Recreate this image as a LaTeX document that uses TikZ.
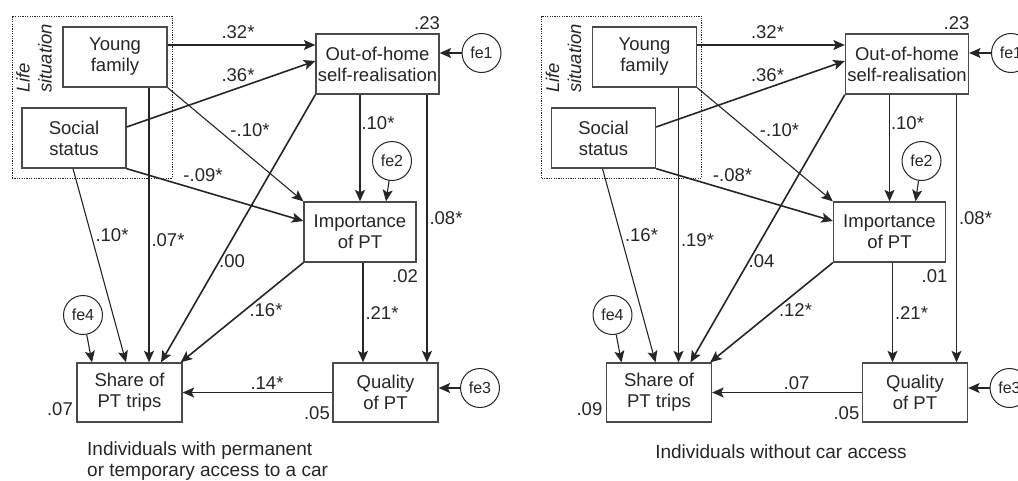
\documentclass[tikz,border=0pt]{standalone}
\usepackage{fontspec}
\setmainfont{Liberation Sans}
\usetikzlibrary{arrows.meta,calc}
\definecolor{ink}{HTML}{262626}
\definecolor{rim}{HTML}{4a4a4a}
\tikzset{
  box/.style={draw=rim, line width=1.3pt, fill=white, align=center,
    font=\fontsize{18.5}{21}\selectfont, text=ink, inner sep=0pt, minimum height=60pt},
  err/.style={draw=ink, line width=1pt, circle, minimum size=39pt, inner sep=0pt,
    font=\fontsize{16}{18}\selectfont, text=ink},
  link/.style={draw=ink, line width=1.6pt, -{Stealth[length=11.5pt,width=10pt,inset=2.5pt]}},
  thinlink/.style={link, line width=1.1pt},
  coef/.style={font=\fontsize{18.5}{21}\selectfont, text=ink, inner sep=0pt},
  lifebox/.style={draw=ink, line width=0.9pt, dash pattern=on 1.2pt off 1.2pt, inner sep=0pt},
  caption/.style={font=\fontsize{19}{21}\selectfont, text=ink, inner sep=0pt},
}

% One path model; #1 is the prefix for node names, coefficients come from \kA..\kP
\newcommand\sempanel[1]{%
  \node[lifebox, minimum width=160pt, minimum height=162pt] (#1life) at (92,97) {};
  \node[rotate=90, anchor=west, align=left, inner sep=0pt, text=ink,
        font=\fontsize{18.5}{22}\selectfont\itshape] (#1lt) at (34,93) {Life\\situation};
  \node[box, minimum width=104pt] (#1yf) at (115,57) {Young\\family};
  \node[box, minimum width=104pt] (#1ss) at (74,138) {Social\\status};
  \node[box, minimum width=123pt] (#1oh) at (377.5,64) {Out-of-home\\self-realisation};
  \node[box, minimum width=112pt] (#1im) at (360,232) {Importance\\of PT};
  \node[box, minimum width=105pt, minimum height=59pt] (#1sh) at (129.5,392.5) {Share of\\PT trips};
  \node[box, minimum width=105pt, minimum height=59pt] (#1qu) at (385.5,392.5) {Quality\\of PT};
  \node[err] (#1e1) at (481.5,53) {fe1};
  \node[err] (#1e2) at (392,161) {fe2};
  \node[err] (#1e3) at (480,388) {fe3};
  \node[err] (#1e4) at (83,315) {fe4};
  % attachment points
  \coordinate (#1a) at ([yshift=12pt]#1yf.east);
  \coordinate (#1b) at ([xshift=34pt]#1yf.south);
  \coordinate (#1c) at ([xshift=49.5pt]#1oh.south);
  \coordinate (#1d) at ([xshift=3pt]#1im.south);
  % paths
  \draw[link] (#1a) -- (#1a -| #1oh.west);
  \draw[link] ([yshift=11pt]#1ss.east) -- ([yshift=3pt]#1oh.west);
  \draw[thinlink] (#1yf.south east) -- (#1im.north west);
  \draw[link] (#1ss.south east) -- ([yshift=11pt]#1im.west);
  \draw[link] (#1b) -- (#1b |- #1sh.north);
  \draw[thinlink] ([xshift=-1pt]#1ss.south) -- ([xshift=-3.5pt]#1sh.north);
  \draw[link] (#1oh.south west) -- ([xshift=31.5pt]#1sh.north);
  \draw[link] (#1im.south west) -- ([xshift=-2pt]#1sh.north east);
  \draw[link] (#1im.north |- #1oh.south) -- (#1im.north);
  \draw[thinlink] (#1e2) -- ([xshift=26pt]#1im.north);
  \draw[link] (#1c) -- (#1c |- #1qu.north);
  \draw[link] (#1d) -- (#1d |- #1qu.north);
  \draw[link] (#1e1.west) -- (#1e1.west -| #1oh.east);
  \draw[link] (#1e3.west) -- (#1e3.west -| #1qu.east);
  \draw[link] (#1qu.west) -- (#1sh.east);
  \draw[thinlink] (#1e4) -- ([xshift=-37.5pt]#1sh.north);
  % coefficients
  \node[coef] (#1kA) at (427,23) {\kA};
  \node[coef] (#1kB) at (238,32) {\kB};
  \node[coef] (#1kC) at (238,75) {\kC};
  \node[coef] (#1kD) at (250,130) {\kD};
  \node[coef] (#1kE) at (203,175) {\kE};
  \node[coef] (#1kF) at (112,235) {\kF};
  \node[coef] (#1kG) at (168,240) {\kG};
  \node[coef] (#1kH) at (232,261) {\kH};
  \node[coef] (#1kI) at (378,123) {\kI};
  \node[coef] (#1kJ) at (446,218) {\kJ};
  \node[coef] (#1kK) at (405,276) {\kK};
  \node[coef] (#1kL) at (266,310) {\kL};
  \node[coef] (#1kM) at (382,313) {\kM};
  \node[coef] (#1kN) at (267,383) {\kN};
  \node[coef, anchor=east] (#1kO) at (73,409) {\kO};
  \node[coef, anchor=east] (#1kP) at (330,413) {\kP};
}

\begin{document}
\begin{tikzpicture}[x=1pt, y=-1pt]
  \useasboundingbox (0,0) rectangle (1018,480);
  \clip (0,0) rectangle (1018,480);

  % with car access
  \begin{scope}
    \def\kA{.23}\def\kB{.32*}\def\kC{.36*}\def\kD{-.10*}\def\kE{-.09*}
    \def\kF{.10*}\def\kG{.07*}\def\kH{.00}\def\kI{.10*}\def\kJ{.08*}
    \def\kK{.02}\def\kL{.16*}\def\kM{.21*}\def\kN{.14*}\def\kO{.07}\def\kP{.05}
    \sempanel{L}
    \node[caption, anchor=west, align=left] (Lcap) at (87,461.5)
      {Individuals with permanent\\or temporary access to a car};
  \end{scope}

  % without car access
  \begin{scope}[shift={(529.5,0)}]
    \def\kA{.23}\def\kB{.32*}\def\kC{.36*}\def\kD{-.10*}\def\kE{-.08*}
    \def\kF{.16*}\def\kG{.19*}\def\kH{.04}\def\kI{.10*}\def\kJ{.08*}
    \def\kK{.01}\def\kL{.12*}\def\kM{.21*}\def\kN{.07}\def\kO{.09}\def\kP{.05}
    \sempanel{R}
    \node[caption] (Rcap) at (251.5,452) {Individuals without car access};
  \end{scope}
\end{tikzpicture}
\end{document}
